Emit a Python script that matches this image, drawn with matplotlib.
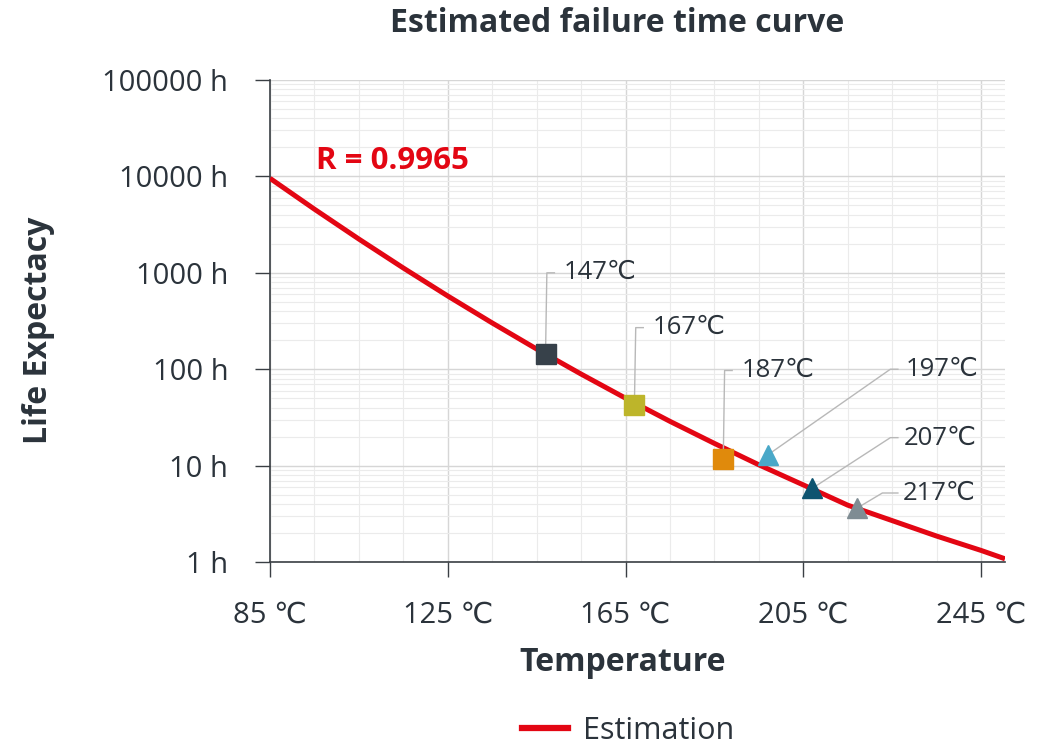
import numpy as np
import matplotlib.pyplot as plt
from matplotlib.lines import Line2D
from matplotlib.ticker import FixedLocator, LogLocator, NullFormatter

# estimated curve (temperature in C, life in hours)
curve_temp = [85, 95, 105, 115, 125, 135, 145, 155, 165, 175, 185, 195, 205, 215, 225, 235, 245, 250.4]
curve_hours = [9550, 4571, 2239, 1122, 575, 302, 162, 89.1, 50.1, 28.8, 17.0, 10.2, 6.31, 3.89, 2.69, 1.86, 1.32, 1.08]

# measured points
pt_temp = [147, 167, 187, 197, 207, 217]
pt_hours = [144, 42.5, 11.7, 12.9, 5.8, 3.6]
pt_marker = ['s', 's', 's', '^', '^', '^']
pt_color = ['#37414a', '#bdb52a', '#e08a0c', '#4aa8c8', '#0e5470', '#7f8c93']
pt_label = ['147℃', '167℃', '187℃', '197℃', '207℃', '217℃']

xticks = [85, 125, 165, 205, 245]
xtick_labels = ['85 ℃', '125 ℃', '165 ℃', '205 ℃', '245 ℃']
yticks = [1, 10, 100, 1000, 10000, 100000]
ytick_labels = ['1 h', '10 h', '100 h', '1000 h', '10000 h', '100000 h']

txt = '#2b333b'
red = '#e30613'
plt.rcParams['font.family'] = ['Open Sans', 'DejaVu Sans']

fig = plt.figure(figsize=(10.56, 7.45), dpi=100)
ax = fig.add_axes([0.2557, 0.2456, 0.696, 0.647])

ax.plot(curve_temp, curve_hours, color=red, lw=3.6, solid_capstyle='butt', zorder=3)

for t, h, m, c in zip(pt_temp, pt_hours, pt_marker, pt_color):
    ax.plot(t, h, marker=m, color=c, markersize=14 if m == 's' else 15,
            linestyle='none', zorder=4)

# leader lines: marker -> elbow -> end of short tick, then label
elbow = [(147.3, 1000), (167.3, 270), (187.3, 97), (224.6, 100), (224.6, 19.5), (222.8, 5.2)]
leader_end = [(149.0, 1000), (169.0, 270), (189.0, 97), (226.3, 100), (226.3, 19.5), (226.3, 5.2)]
lab_pos = [(151.2, 1000), (171.2, 270), (191.2, 97), (228.0, 100), (227.6, 19.3), (227.4, 5.2)]
for (t, h), (ex, ey), (qx, qy), (lx, ly), lab in zip(zip(pt_temp, pt_hours), elbow, leader_end, lab_pos, pt_label):
    ax.plot([t, ex, qx], [h, ey, qy], color='#b8b8b8', lw=1.0, zorder=3.5)
    ax.text(lx, ly, lab, fontsize=18.5, color=txt, va='center', ha='left')

ax.text(95.4, 14500, 'R = 0.9965', color=red, fontsize=22.5, fontweight='bold',
        va='center', ha='left')

ax.set_yscale('log')
ax.set_xlim(85, 250.4)
ax.set_ylim(1, 100000)
ax.xaxis.set_major_locator(FixedLocator(xticks))
ax.set_xticklabels(xtick_labels)
ax.xaxis.set_minor_locator(FixedLocator(np.arange(85, 251, 10)))
ax.set_yticks(yticks)
ax.set_yticklabels(ytick_labels)
ax.yaxis.set_minor_locator(LogLocator(base=10, subs=np.arange(2, 10)))
ax.yaxis.set_minor_formatter(NullFormatter())

ax.grid(which='major', color='#d6d6d6', lw=1.0)
ax.grid(which='minor', color='#ebebeb', lw=0.8)
ax.set_axisbelow(True)
for s in ['top', 'right']:
    ax.spines[s].set_visible(False)
for s in ['left', 'bottom']:
    ax.spines[s].set_color('#3a3f44')
    ax.spines[s].set_linewidth(1.2)
ax.tick_params(which='major', length=11, width=1, color='#3a3f44', labelsize=21,
               labelcolor=txt)
ax.tick_params(axis='y', pad=19)
ax.tick_params(axis='x', pad=17)
ax.tick_params(which='minor', length=0)

fig.text(0.584, 0.968, 'Estimated failure time curve', fontsize=23, fontweight='bold',
         color=txt, ha='center', va='center')
fig.text(0.590, 0.111, 'Temperature', fontsize=23, fontweight='bold', color=txt,
         ha='center', va='center')
fig.text(0.036, 0.557, 'Life Expectacy', fontsize=23, fontweight='bold', color=txt,
         ha='center', va='center', rotation=90)

proxy = Line2D([], [], color=red, lw=4.5)
fig.legend(handles=[proxy], labels=['Estimation'], loc='center', bbox_to_anchor=(0.595, 0.019),
           frameon=False, fontsize=22, labelcolor=txt, handlelength=1.5, handletextpad=0.5)

fig.savefig('out.png', dpi=100)
